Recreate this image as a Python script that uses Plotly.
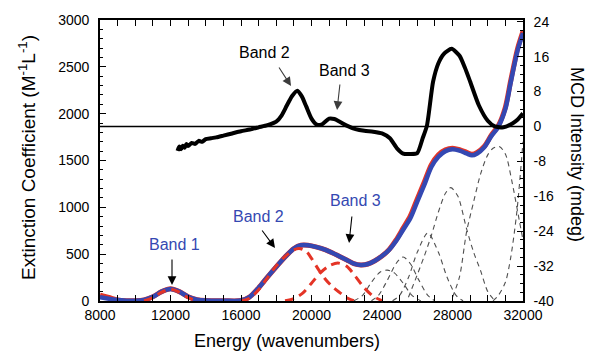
import plotly.graph_objects as go

# ---------------- data ----------------
energy_fit = [8000, 8500, 9000, 9500, 10000, 10500, 11000, 11500, 12000, 12500, 13000, 13500,
              14000, 15000, 16000, 16500, 17000, 17500, 18000, 18500, 19000, 19400, 19800,
              20300, 20800, 21200, 21600, 22000, 22400, 22800, 23200, 23600, 24000, 24400,
              24800, 25200, 25600, 26000, 26400, 26800, 27200, 27600, 28000, 28400, 28800,
              29100, 29400, 29800, 30200, 30600, 31000, 31300, 31700, 32000]
fit_total = [40, 25, 10, 4, 3, 12, 45, 100, 128, 100, 45, 15, 5, 3, 5, 45, 140, 255, 365, 470,
             560, 595, 595, 575, 545, 512, 475, 438, 400, 385, 395, 430, 480, 545, 640, 760,
             880, 1060, 1240, 1430, 1540, 1600, 1620, 1605, 1575, 1555, 1575, 1640, 1760,
             1860, 2050, 2330, 2680, 2860]
exp_total = [62, 38, 12, 4, 3, 12, 45, 100, 130, 100, 45, 15, 5, 3, 5, 45, 140, 255, 365, 470,
             560, 595, 595, 575, 545, 512, 475, 438, 400, 385, 395, 430, 480, 548, 652, 778,
             905, 1090, 1270, 1455, 1562, 1615, 1632, 1616, 1586, 1566, 1586, 1650, 1770,
             1872, 2070, 2350, 2700, 2880]

band1_e = [10500, 11000, 11500, 12000, 12500, 13000, 13500]
band1 = [2, 35, 95, 125, 95, 35, 2]
band2_e = [16000, 16500, 17000, 17500, 18000, 18500, 19000, 19300, 19700, 20000, 20400, 20800,
           21200, 21600, 22000, 22400]
band2 = [2, 30, 120, 250, 375, 475, 545, 560, 530, 455, 335, 230, 150, 90, 35, 3]
band3_e = [18500, 19000, 19500, 20000, 20500, 21000, 21500, 22000, 22500, 23000, 23500, 24000]
band3 = [2, 25, 85, 190, 300, 375, 405, 370, 260, 140, 50, 5]

c4_e = [22400, 22900, 23400, 23900, 24300, 24700, 25200, 25700, 26200]
c4 = [2, 60, 200, 310, 330, 300, 190, 60, 2]
c5_e = [23400, 23800, 24300, 24800, 25200, 25600, 26100, 26600, 27000]
c5 = [2, 60, 220, 400, 470, 400, 220, 60, 2]
c6_e = [24600, 25000, 25500, 26000, 26600, 27200, 27700, 28200, 28600]
c6 = [2, 60, 250, 520, 726, 520, 250, 60, 2]
c7_e = [25500, 26000, 26400, 26800, 27200, 27600, 27900, 28300, 28800, 29200, 29600, 30000, 30400]
c7 = [40, 280, 480, 700, 950, 1150, 1210, 1120, 770, 520, 320, 100, 5]
c8_e = [28000, 28400, 28800, 29200, 29600, 30000, 30300, 30650, 31000, 31400, 31800, 32000]
c8 = [40, 260, 740, 1060, 1360, 1560, 1630, 1650, 1570, 1250, 850, 650]
c9_e = [30300, 30600, 31000, 31300, 31650, 32000]
c9 = [2, 60, 200, 460, 950, 1700]

mcd_e = [12400, 12500, 12600, 12700, 12800, 12900, 13000, 13200, 13400, 13600, 13800, 14000,
         14300, 14600, 15000, 15500, 16000, 16500, 17000, 17500, 18000, 18300, 18600, 18900,
         19200, 19450, 19700, 20000, 20300, 20600, 21000, 21300, 21600, 22000, 22500, 23000,
         23500, 24000, 24450, 24850, 25200, 25600, 26000, 26300, 26550, 26900, 27200, 27500,
         27950, 28400, 28700, 29000, 29500, 30000, 30400, 30900, 31400, 31700, 32000]
mcd = [-5.6, -4.6, -5.2, -4.4, -4.9, -4.0, -4.5, -3.8, -4.0, -3.3, -3.5, -2.9, -2.7, -2.5,
       -2.1, -1.6, -1.1, -0.7, -0.2, 0.3, 1.1, 2.5, 4.8, 7.0, 8.2, 6.9, 4.6, 1.8, 0.4, 0.5,
       1.8, 1.7, 1.1, 0.2, -0.6, -1.0, -1.2, -1.6, -2.7, -5.0, -6.2, -6.3, -6.1, -2.8, 0.2,
       10.3, 14.5, 16.6, 17.8, 16.2, 13.5, 10.3, 4.8, 1.3, 0.0, -0.2, 0.7, 1.6, 3.0]

x_ticks = [8000, 12000, 16000, 20000, 24000, 28000, 32000]
y_ticks = [0, 500, 1000, 1500, 2000, 2500, 3000]
y2_ticks = [-40, -32, -24, -16, -8, 0, 8, 16, 24]

# ---------------- styles ----------------
BLUE = "rgb(52,72,178)"
RED = "rgb(228,52,38)"
GREY = "rgb(80,80,80)"
FONT = "Liberation Sans, Arial, Helvetica, sans-serif"

fig = go.Figure()

grey_sets = [(c4_e, c4), (c5_e, c5), (c6_e, c6), (c7_e, c7), (c8_e, c8), (c9_e, c9)]
for ex, ey in grey_sets:
    fig.add_trace(go.Scatter(x=ex, y=ey, mode="lines", line=dict(color=GREY, width=1.1,
                  dash="5px,4px", shape="spline", smoothing=0.8), showlegend=False,
                  hoverinfo="skip"))

fig.add_trace(go.Scatter(x=energy_fit, y=exp_total, mode="lines",
                         line=dict(color=RED, width=5, shape="spline", smoothing=0.8),
                         showlegend=False))
fig.add_trace(go.Scatter(x=energy_fit, y=fit_total, mode="lines",
                         line=dict(color=BLUE, width=4.5, shape="spline", smoothing=0.8),
                         showlegend=False))

for ex, ey in [(band1_e, band1), (band2_e, band2), (band3_e, band3)]:
    fig.add_trace(go.Scatter(x=ex, y=ey, mode="lines", line=dict(color=RED, width=3,
                  dash="9px,6px", shape="spline", smoothing=0.8), showlegend=False))

fig.add_trace(go.Scatter(x=mcd_e, y=mcd, yaxis="y2", mode="lines",
                         line=dict(color="black", width=4, shape="spline", smoothing=0.6),
                         showlegend=False))

# zero line of MCD
fig.add_shape(type="line", xref="paper", x0=0, x1=1, yref="y2", y0=0, y1=0,
              line=dict(color="black", width=1.6))

tickfont = dict(family=FONT, size=14, color="black")
fig.update_layout(
    width=590, height=351,
    margin=dict(l=100, r=67, t=20, b=50),
    paper_bgcolor="white", plot_bgcolor="white",
    font=dict(family=FONT, color="black"),
    xaxis=dict(range=[8000, 32000], tickvals=x_ticks, ticktext=[str(v) for v in x_ticks],
               ticks="inside", ticklen=6, tickwidth=1.2, tickcolor="black",
               minor=dict(dtick=1000, ticks="inside", ticklen=3, tickcolor="black"),
               showline=True, linecolor="black", linewidth=1.6, mirror="allticks",
               showgrid=False, zeroline=False, tickfont=tickfont),
    yaxis=dict(range=[0, 3000], tickvals=y_ticks, ticktext=[str(v) for v in y_ticks],
               ticks="inside", ticklen=6, tickwidth=1.2, tickcolor="black",
               minor=dict(dtick=100, ticks="inside", ticklen=3, tickcolor="black"),
               showline=True, linecolor="black", linewidth=1.6, mirror=True,
               showgrid=False, zeroline=False, tickfont=tickfont, ticklabelstandoff=6),
    yaxis2=dict(range=[-40, 24.4], overlaying="y", side="right",
                tickvals=y2_ticks, ticktext=[str(v) for v in y2_ticks],
                ticks="inside", ticklen=6, tickwidth=1.2, tickcolor="black",
                minor=dict(dtick=2, ticks="inside", ticklen=3, tickcolor="black"),
                showline=True, linecolor="black", linewidth=1.6,
                showgrid=False, zeroline=False, tickfont=tickfont, ticklabelstandoff=6),
)

# axis titles as annotations for exact placement
fig.add_annotation(text="Energy (wavenumbers)", xref="paper", yref="paper",
                   x=(287 - 100) / 423, y=-(341 - 301) / 281, xanchor="center", yanchor="middle",
                   showarrow=False, font=dict(family=FONT, size=18))
fig.add_annotation(text="Extinction Coefficient (M<sup>-1</sup>L<sup>-1</sup>)", xref="paper",
                   yref="paper", x=(27 - 100) / 423, y=(301 - 158) / 281, xanchor="center",
                   yanchor="middle", textangle=-90, showarrow=False,
                   font=dict(family=FONT, size=19))
fig.add_annotation(text="MCD Intensity (mdeg)", xref="paper", yref="paper",
                   x=1 + (577 - 523) / 423, y=(301 - 154) / 281, xanchor="center",
                   yanchor="middle", textangle=90, showarrow=False,
                   font=dict(family=FONT, size=18))

def label(text, x, y, color):
    fig.add_annotation(text=text, x=x, y=y, xref="x", yref="y", showarrow=False,
                       font=dict(family=FONT, size=16, color=color))

def arrow(x, y, ax, ay, color):
    fig.add_annotation(text="", x=x, y=y, xref="x", yref="y", ax=ax, ay=ay, showarrow=True,
                       arrowhead=2, arrowsize=1.6, arrowwidth=1.1, arrowcolor=color)

# MCD labels
label("Band 2", 17360, 2658, "black")
arrow(18840, 2295, -13, -20, "rgb(60,60,60)")
label("Band 3", 21900, 2466, "black")
arrow(21450, 2039, 3, -27, "rgb(60,60,60)")
# absorption labels
label("Band 1", 12255, 598, BLUE)
arrow(12085, 171, 0, -27, "black")
label("Band 2", 16965, 897, BLUE)
arrow(17930, 566, -14, -19, "black")
label("Band 3", 22470, 1078, BLUE)
arrow(22130, 619, 3, -28, "black")

fig.write_html("out.html", config={"displayModeBar": False},
               post_script="document.body.style.margin='0px';document.body.style.overflow='hidden';")
